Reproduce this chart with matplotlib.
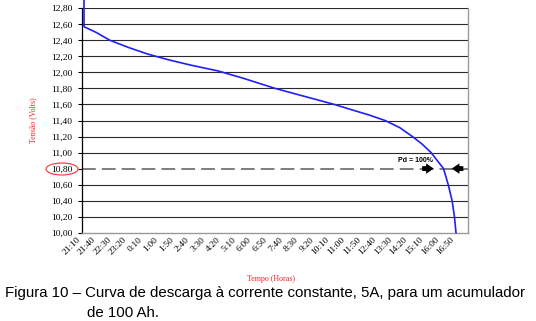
import matplotlib
matplotlib.use("Agg")
import matplotlib.pyplot as plt
import matplotlib.patches as mpatches
import numpy as np

# category labels on the time axis (evenly spaced categories)
time_labels = ["21:10", "21:40", "22:30", "23:20", "0:10", "1:00", "1:50",
               "2:40", "3:30", "4:20", "5:10", "6:00", "6:50", "7:40",
               "8:30", "9:20", "10:10", "11:00", "11:50", "12:40", "13:30",
               "14:20", "15:10", "16:00", "16:50"]

# discharge curve (position in category units, volts)
curve_pos = [0.13, 0.13, 0.9, 1.8, 3.0, 4.2, 5.5, 7.0, 8.7, 10.3, 12.4,
             14.3, 16.2, 17.2, 18.4, 19.45, 20.4, 21.2, 21.8, 22.4, 22.8,
             23.2, 23.5, 23.75, 23.9, 24.0]
curve_volts = [12.92, 12.57, 12.50, 12.40, 12.31, 12.23, 12.16, 12.09,
               12.02, 11.93, 11.80, 11.70, 11.60, 11.54, 11.47, 11.40,
               11.31, 11.20, 11.11, 11.00, 10.90, 10.80, 10.60, 10.40,
               10.20, 10.00]

cutoff_volts = 10.80
y_ticks = np.round(np.arange(10.0, 12.81, 0.2), 2)

SERIF = "Liberation Serif"
SANS = "Liberation Sans"

fig = plt.figure(figsize=(5.36, 3.21), dpi=100)
ax = fig.add_axes([82 / 536, 1 - 232.7 / 321, 386 / 536, 224.4 / 321])
ax.set_xlim(0, 24.77)
ax.set_ylim(10.0, 12.8)

# horizontal grid (the cut-off level is drawn dashed instead)
for v in y_ticks:
    if v in (10.0, cutoff_volts):
        continue
    ax.axhline(v, color="#2a2a2a", lw=0.8, zorder=1)
ax.axhline(cutoff_volts, color="#5a5a5a", lw=1.1, dashes=(9, 4), zorder=1)

ax.plot(curve_pos, curve_volts, color="#1f1fff", lw=1.2, zorder=3,
        clip_on=False)

# spines
ax.spines["top"].set_visible(False)
ax.spines["left"].set_color("black")
ax.spines["left"].set_linewidth(0.9)
ax.spines["bottom"].set_color("#9a9a9a")
ax.spines["right"].set_color("#9a9a9a")
ax.spines["bottom"].set_linewidth(1.0)
ax.spines["right"].set_linewidth(1.0)

ax.set_yticks(y_ticks)
ax.set_yticklabels([f"{v:.2f}".replace(".", ",") for v in y_ticks],
                   family=SERIF, fontsize=6.8)
ax.tick_params(axis="y", length=3, width=0.8, pad=4, colors="black")

ax.set_xticks(np.arange(len(time_labels)))
ax.set_xticklabels(time_labels, rotation=45, ha="right", va="top",
                   family=SERIF, fontsize=6.8)
ax.tick_params(axis="x", length=0, pad=2)

ax.set_ylabel("Tensão (Volts)", family=SERIF, fontsize=5.8, color="#ff2020")
ax.yaxis.set_label_coords(-0.115, 0.5)
ax.set_xlabel("Tempo (Horas)", family=SERIF, fontsize=5.8, color="#ff2020")
ax.xaxis.set_label_coords(0.49, -0.19)

# Pd = 100% marker
ax.text(21.37, 10.90, "Pd = 100%", family=SANS, fontsize=5, weight="bold",
        ha="center", va="center", zorder=4)
arrow_kw = dict(arrowstyle="simple,head_length=0.55,head_width=0.75,tail_width=0.35",
                color="black", lw=0, mutation_scale=10)
ax.annotate("", xy=(22.75, cutoff_volts), xytext=(21.65, cutoff_volts),
            arrowprops=arrow_kw, zorder=5, annotation_clip=False)
ax.annotate("", xy=(23.55, cutoff_volts), xytext=(24.65, cutoff_volts),
            arrowprops=arrow_kw, zorder=5, annotation_clip=False)

# red ellipse around the 10,80 label
fig.patches.append(mpatches.Ellipse((62 / 536, 1 - 169 / 321), 32 / 536,
                                    12 / 321, transform=fig.transFigure,
                                    fill=False, edgecolor="#ff3030", lw=0.8))

fig.text(5 / 536, 1 - 297 / 321,
         "Figura 10 – Curva de descarga à corrente constante, 5A, para um acumulador",
         family=SANS, fontsize=10.8, ha="left", va="baseline")
fig.text(87 / 536, 1 - 317 / 321, "de 100 Ah.", family=SANS, fontsize=10.8,
         ha="left", va="baseline")

fig.savefig("out.png", dpi=100)
